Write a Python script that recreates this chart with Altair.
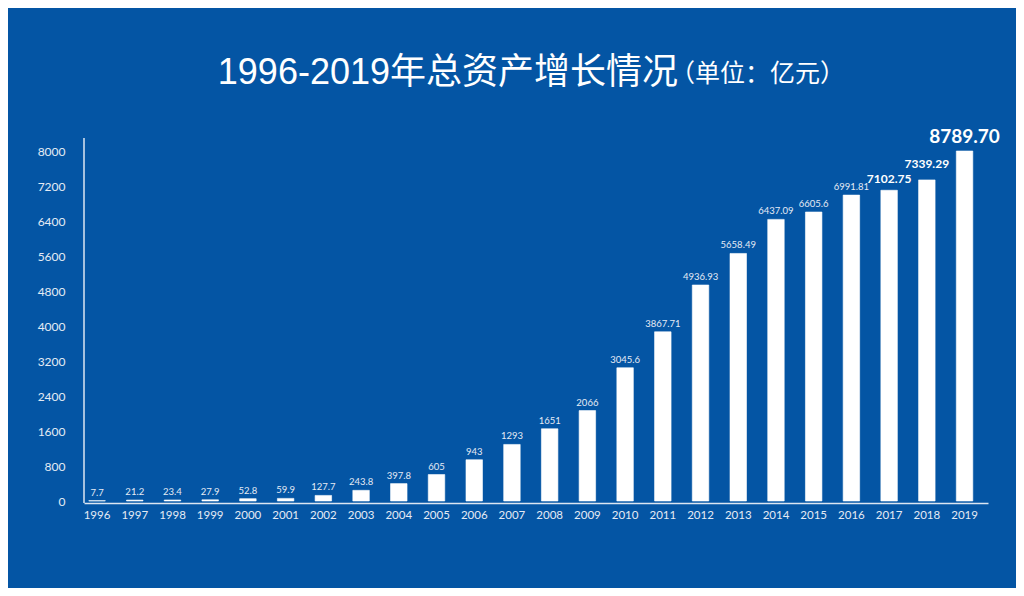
import altair as alt
import pandas as pd

years = ["1996", "1997", "1998", "1999", "2000", "2001", "2002", "2003", "2004",
         "2005", "2006", "2007", "2008", "2009", "2010", "2011", "2012", "2013",
         "2014", "2015", "2016", "2017", "2018", "2019"]
values = [7.7, 21.2, 23.4, 27.9, 52.8, 59.9, 127.7, 243.8, 397.8, 605, 943, 1293,
          1651, 2066, 3045.6, 3867.71, 4936.93, 5658.49, 6437.09, 6605.6, 6991.81,
          7102.75, 7339.29, 8789.70]
labels = ["7.7", "21.2", "23.4", "27.9", "52.8", "59.9", "127.7", "243.8", "397.8",
          "605", "943", "1293", "1651", "2066", "3045.6", "3867.71", "4936.93",
          "5658.49", "6437.09", "6605.6", "6991.81", "7102.75", "7339.29", "8789.70"]
y_ticks = [0, 800, 1600, 2400, 3200, 4000, 4800, 5600, 6400, 7200, 8000]
title_main = "1996-2019年总资产增长情况"
title_unit = "（单位：亿元）"

BG = "#0455a4"
FG = "#e4ebf5"
AXIS = "#dce6f2"
TFONT = "Liberation Sans, Noto Sans CJK SC"

df = pd.DataFrame({"year": years, "value": values, "label": labels})

x = alt.X("year:N", sort=None,
          scale=alt.Scale(paddingInner=0.5626, paddingOuter=0.265, align=0.24),
          axis=alt.Axis(title=None, labelAngle=0, domainColor=AXIS, domainWidth=1.5,
                        ticks=False, tickSize=0, labelPadding=6, labelFont="Lato",
                        labelFontSize=11.5, labelColor=FG, offset=2, grid=False))
y = alt.Y("value:Q",
          scale=alt.Scale(domain=[0, 8000], clamp=True, nice=False, zero=True),
          axis=alt.Axis(title=None, values=y_ticks, format="d", domain=False, grid=False,
                        ticks=False, tickSize=0, labelPadding=19, labelFont="Lato",
                        labelFontSize=12, labelColor=FG))

base = alt.Chart(df)
bars = base.mark_bar(color="white", stroke="white", strokeWidth=0.6).encode(x=x, y=y)


def pick(ys):
    return base.transform_filter(alt.FieldOneOfPredicate(field="year", oneOf=ys))


small = pick(years[:21]).mark_text(
    baseline="bottom", dy=-3, fontSize=9.5, font="Lato", color=FG).encode(
    x=x, y=y, text="label:N")
l2017 = pick(years[21:22]).mark_text(
    baseline="bottom", dy=-4, fontSize=12, fontWeight="bold", font="Lato",
    color="white").encode(x=x, y=y, text="label:N")
l2018 = pick(years[22:23]).mark_text(
    baseline="bottom", dy=-9, fontSize=12, fontWeight="bold", font="Lato",
    color="white").encode(x=x, y=y, text="label:N")
l2019 = pick(years[23:]).mark_text(
    baseline="bottom", dy=-4, fontSize=19, fontWeight="bold", font="Lato",
    color="white").encode(x=x, y=y, text="label:N")

yline = alt.Chart(pd.DataFrame({"a": [0]})).mark_rule(color=AXIS, strokeWidth=1.5).encode(
    x=alt.value(0), y=alt.value(-13), y2=alt.value(352))

t1 = alt.Chart(pd.DataFrame({"t": [title_main]})).mark_text(
    align="right", baseline="middle", fontSize=36, font=TFONT,
    color="white").encode(x=alt.value(594), y=alt.value(-78), text="t:N")
t2 = alt.Chart(pd.DataFrame({"t": [title_unit]})).mark_text(
    align="left", baseline="middle", fontSize=25, font="Noto Sans CJK SC",
    color="white").encode(x=alt.value(586), y=alt.value(-77), text="t:N")

chart = alt.layer(bars, small, l2017, l2018, l2019, yline, t1, t2).properties(
    width=904, height=350,
    background=BG,
    autosize=alt.AutoSizeParams(type="none"),
    padding={"left": 76, "top": 143, "right": 28, "bottom": 87},
).configure_view(stroke=None)

chart.save("out.html", embed_options={"renderer": "svg", "actions": False})
